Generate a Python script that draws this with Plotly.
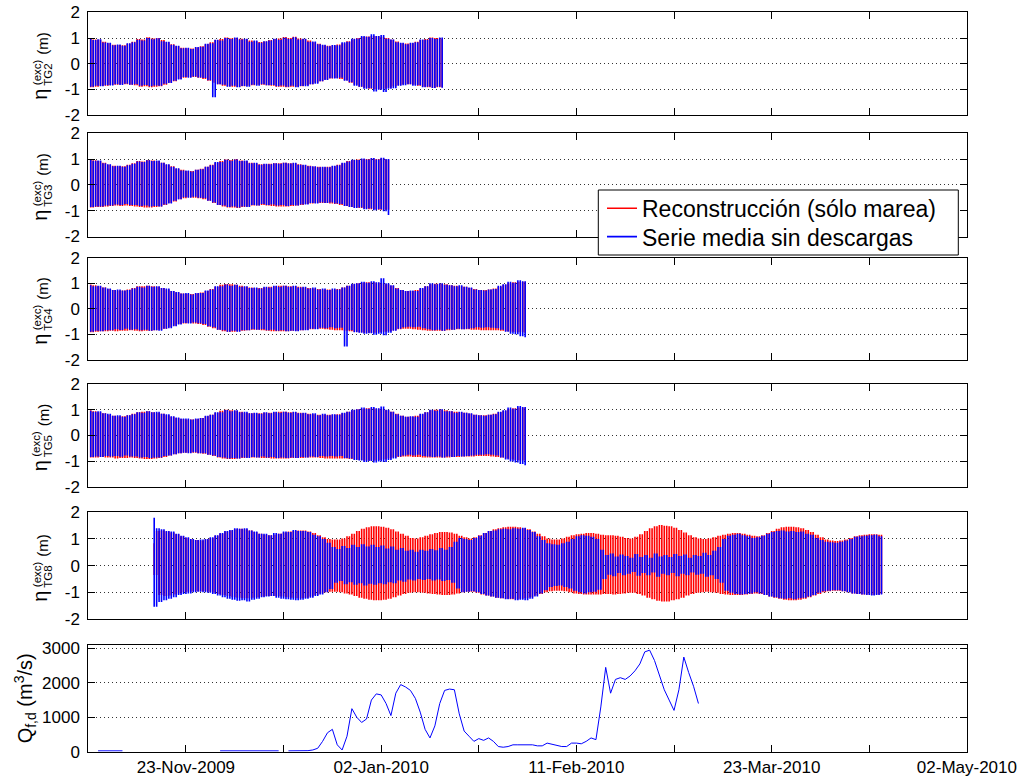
import numpy as np
import pandas as pd
import plotly.graph_objects as go

# ---------------------------------------------------------------------------
# Daily high / low water levels (m) of the excess elevation at each gauge.
# "red" = tidal reconstruction only, "blue" = mean series without discharges.
# ---------------------------------------------------------------------------
TG2_START = "2009-11-03"
tg2_blue_hi = [0.97, 0.92, 0.95, 0.83, 0.82, 0.72, 0.75, 0.70, 0.80, 0.84,
               0.93, 0.90, 1.00, 0.95, 0.99, 0.88, 0.86, 0.74, 0.70, 0.60,
               0.62, 0.57, 0.65, 0.66, 0.78, 0.80, 0.93, 0.90, 1.00, 0.96,
               1.02, 0.94, 0.97, 0.86, 0.90, 0.82, 0.88, 0.90, 0.97, 0.93,
               1.01, 0.96, 1.03, 0.94, 0.97, 0.86, 0.87, 0.76, 0.74, 0.68,
               0.73, 0.72, 0.84, 0.86, 0.97, 0.98, 1.08, 1.05, 1.15, 1.08,
               1.12, 0.97, 0.94, 0.84, 0.82, 0.76, 0.82, 0.84, 0.94, 0.93,
               1.00, 0.96, 1.02]
tg2_blue_lo = [-0.90, -0.86, -0.88, -0.84, -0.85, -0.80, -0.83, -0.78, -0.82, -0.80,
               -0.86, -0.83, -0.88, -0.85, -0.86, -0.78, -0.75, -0.66, -0.62, -0.52,
               -0.55, -0.50, -0.54, -0.56, -0.65, -1.31, -0.80, -0.82, -0.90, -0.86,
               -0.92, -0.87, -0.90, -0.82, -0.86, -0.80, -0.84, -0.83, -0.88, -0.85,
               -0.90, -0.86, -0.92, -0.87, -0.88, -0.80, -0.78, -0.68, -0.64, -0.57,
               -0.58, -0.55, -0.66, -0.72, -0.86, -0.90, -0.98, -0.96, -1.08, -1.02,
               -1.10, -0.98, -0.96, -0.86, -0.84, -0.80, -0.86, -0.84, -0.92, -0.90,
               -0.95, -0.90, -0.94]
tg2_red_hi = [0.99, 0.94, 0.93, 0.86, 0.80, 0.74, 0.73, 0.72, 0.78, 0.86,
              0.96, 0.94, 1.03, 0.98, 1.00, 0.92, 0.84, 0.76, 0.68, 0.62,
              0.60, 0.59, 0.63, 0.68, 0.76, 0.84, 0.92, 0.96, 1.02, 0.99,
              1.00, 0.97, 0.95, 0.90, 0.88, 0.85, 0.87, 0.92, 0.96, 0.98,
              1.04, 1.00, 1.05, 0.98, 0.96, 0.90, 0.84, 0.78, 0.72, 0.70,
              0.71, 0.75, 0.80, 0.88, 0.94, 1.00, 1.04, 1.06, 1.08, 1.07,
              1.05, 1.00, 0.93, 0.87, 0.80, 0.79, 0.80, 0.86, 0.92, 0.96,
              1.02, 1.00, 0.98]
tg2_red_lo = [-0.92, -0.90, -0.86, -0.86, -0.83, -0.82, -0.80, -0.80, -0.82, -0.84,
              -0.90, -0.88, -0.92, -0.90, -0.88, -0.82, -0.74, -0.68, -0.60, -0.55,
              -0.52, -0.52, -0.55, -0.60, -0.66, -0.74, -0.80, -0.86, -0.88, -0.90,
              -0.90, -0.88, -0.86, -0.84, -0.82, -0.82, -0.84, -0.86, -0.90, -0.90,
              -0.92, -0.90, -0.90, -0.88, -0.84, -0.80, -0.74, -0.68, -0.62, -0.58,
              -0.56, -0.60, -0.65, -0.74, -0.82, -0.90, -0.94, -0.98, -1.00, -1.00,
              -0.98, -0.94, -0.88, -0.84, -0.80, -0.80, -0.82, -0.86, -0.90, -0.92,
              -0.94, -0.92, -0.92]

TG3_START = "2009-11-03"
tg3_blue_hi = [0.96, 0.93, 0.94, 0.84, 0.80, 0.72, 0.74, 0.70, 0.76, 0.82,
               0.90, 0.88, 0.95, 0.92, 0.94, 0.86, 0.80, 0.70, 0.64, 0.56,
               0.56, 0.52, 0.58, 0.60, 0.70, 0.76, 0.88, 0.88, 0.97, 0.93,
               0.98, 0.92, 0.94, 0.84, 0.86, 0.78, 0.82, 0.80, 0.84, 0.82,
               0.86, 0.83, 0.86, 0.78, 0.78, 0.72, 0.72, 0.68, 0.70, 0.68,
               0.74, 0.76, 0.86, 0.90, 0.97, 0.96, 1.02, 0.98, 1.04, 0.98,
               1.05, 1.00]
tg3_blue_lo = [-0.86, -0.84, -0.84, -0.80, -0.80, -0.76, -0.78, -0.74, -0.78, -0.78,
               -0.82, -0.80, -0.84, -0.82, -0.84, -0.76, -0.72, -0.62, -0.56, -0.48,
               -0.50, -0.46, -0.50, -0.52, -0.62, -0.68, -0.78, -0.80, -0.86, -0.84,
               -0.88, -0.84, -0.86, -0.78, -0.80, -0.74, -0.78, -0.76, -0.80, -0.78,
               -0.82, -0.78, -0.80, -0.76, -0.76, -0.70, -0.72, -0.68, -0.70, -0.68,
               -0.72, -0.74, -0.82, -0.86, -0.90, -0.88, -0.94, -0.92, -0.98, -0.94,
               -1.02, -1.17]
tg3_red_hi = [0.98, 0.95, 0.92, 0.86, 0.78, 0.74, 0.72, 0.72, 0.78, 0.84,
              0.92, 0.90, 0.96, 0.94, 0.92, 0.86, 0.78, 0.72, 0.62, 0.58,
              0.54, 0.54, 0.58, 0.62, 0.70, 0.78, 0.86, 0.92, 0.98, 0.96,
              0.99, 0.94, 0.92, 0.86, 0.84, 0.80, 0.80, 0.82, 0.84, 0.84,
              0.86, 0.84, 0.84, 0.80, 0.76, 0.74, 0.70, 0.70, 0.68, 0.70,
              0.72, 0.78, 0.84, 0.92, 0.96, 0.98, 1.00, 1.00, 1.02, 1.00,
              1.02, 0.98]
tg3_red_lo = [-0.88, -0.86, -0.86, -0.84, -0.82, -0.80, -0.82, -0.80, -0.82, -0.84,
              -0.86, -0.88, -0.88, -0.86, -0.84, -0.78, -0.70, -0.64, -0.56, -0.52,
              -0.48, -0.50, -0.52, -0.56, -0.62, -0.70, -0.78, -0.84, -0.88, -0.88,
              -0.90, -0.86, -0.84, -0.80, -0.80, -0.78, -0.80, -0.82, -0.84, -0.84,
              -0.84, -0.82, -0.80, -0.78, -0.74, -0.72, -0.70, -0.70, -0.70, -0.72,
              -0.74, -0.78, -0.82, -0.86, -0.88, -0.90, -0.92, -0.94, -0.94, -0.96,
              -0.96, -0.96]

TG4_START = "2009-11-03"
tg4_blue_hi = [0.92, 0.88, 0.90, 0.84, 0.80, 0.74, 0.76, 0.72, 0.74, 0.80,
               0.86, 0.84, 0.90, 0.86, 0.88, 0.82, 0.80, 0.70, 0.66, 0.60,
               0.62, 0.56, 0.62, 0.62, 0.72, 0.76, 0.88, 0.88, 0.95, 0.90,
               0.94, 0.86, 0.88, 0.82, 0.84, 0.80, 0.86, 0.84, 0.90, 0.86,
               0.90, 0.86, 0.90, 0.84, 0.86, 0.80, 0.84, 0.76, 0.80, 0.74,
               0.80, 0.76, 0.84, 0.90, 0.98, 1.00, 1.06, 1.02, 1.08, 1.04,
               1.20, 1.00, 0.92, 0.80, 0.74, 0.70, 0.72, 0.70, 0.82, 0.88,
               1.00, 0.96, 1.00, 0.94, 0.92, 0.88, 0.92, 0.86, 0.84, 0.76,
               0.74, 0.72, 0.76, 0.78, 0.90, 0.96, 1.06, 1.02, 1.12, 1.08]
tg4_blue_lo = [-0.90, -0.86, -0.88, -0.84, -0.84, -0.80, -0.83, -0.78, -0.82, -0.80,
               -0.84, -0.82, -0.86, -0.84, -0.86, -0.78, -0.76, -0.68, -0.62, -0.56,
               -0.58, -0.54, -0.57, -0.60, -0.68, -0.72, -0.82, -0.84, -0.90, -0.86,
               -0.90, -0.84, -0.84, -0.80, -0.82, -0.80, -0.84, -0.82, -0.86, -0.84,
               -0.88, -0.86, -0.88, -0.84, -0.84, -0.78, -0.80, -0.74, -0.76, -0.72,
               -0.76, -0.74, -1.48, -0.84, -0.92, -0.94, -0.98, -0.96, -1.02, -0.98,
               -1.04, -0.94, -0.86, -0.78, -0.72, -0.70, -0.72, -0.70, -0.76, -0.80,
               -0.84, -0.82, -0.86, -0.80, -0.82, -0.78, -0.80, -0.78, -0.76, -0.72,
               -0.74, -0.72, -0.74, -0.76, -0.82, -0.90, -0.98, -1.00, -1.08, -1.12]
tg4_red_hi = [0.95, 0.92, 0.88, 0.84, 0.78, 0.74, 0.72, 0.72, 0.76, 0.82,
              0.88, 0.88, 0.90, 0.88, 0.86, 0.82, 0.76, 0.70, 0.64, 0.60,
              0.58, 0.58, 0.60, 0.64, 0.70, 0.78, 0.86, 0.94, 0.97, 0.96,
              0.94, 0.90, 0.86, 0.84, 0.82, 0.82, 0.84, 0.86, 0.88, 0.90,
              0.90, 0.88, 0.88, 0.86, 0.84, 0.82, 0.80, 0.78, 0.76, 0.76,
              0.76, 0.78, 0.84, 0.90, 0.96, 1.00, 1.02, 1.04, 1.04, 1.02,
              1.00, 0.96, 0.90, 0.82, 0.74, 0.70, 0.70, 0.74, 0.80, 0.88,
              0.96, 0.98, 0.98, 0.96, 0.92, 0.90, 0.88, 0.86, 0.82, 0.78,
              0.74, 0.74, 0.76, 0.80, 0.86, 0.94, 1.00, 1.04, 1.06, 1.06]
tg4_red_lo = [-0.92, -0.90, -0.88, -0.88, -0.86, -0.88, -0.86, -0.86, -0.84, -0.86,
              -0.88, -0.86, -0.86, -0.84, -0.82, -0.78, -0.72, -0.66, -0.60, -0.58,
              -0.56, -0.58, -0.60, -0.64, -0.70, -0.76, -0.82, -0.88, -0.90, -0.90,
              -0.88, -0.86, -0.84, -0.82, -0.82, -0.84, -0.86, -0.88, -0.88, -0.88,
              -0.88, -0.86, -0.86, -0.84, -0.82, -0.80, -0.78, -0.78, -0.80, -0.82,
              -0.84, -0.84, -0.86, -0.88, -0.90, -0.92, -0.94, -0.94, -0.94, -0.92,
              -0.90, -0.88, -0.84, -0.80, -0.78, -0.78, -0.80, -0.82, -0.84, -0.86,
              -0.86, -0.86, -0.86, -0.84, -0.82, -0.80, -0.80, -0.80, -0.82, -0.82,
              -0.84, -0.84, -0.84, -0.84, -0.86, -0.88, -0.90, -0.92, -0.92, -0.94]

TG5_START = "2009-11-03"
tg5_blue_hi = [0.96, 0.92, 0.94, 0.86, 0.84, 0.76, 0.78, 0.72, 0.78, 0.82,
               0.90, 0.88, 0.94, 0.90, 0.92, 0.84, 0.82, 0.74, 0.70, 0.66,
               0.66, 0.62, 0.66, 0.68, 0.76, 0.80, 0.90, 0.90, 0.99, 0.94,
               0.98, 0.90, 0.92, 0.86, 0.88, 0.84, 0.90, 0.86, 0.92, 0.88,
               0.92, 0.88, 0.92, 0.86, 0.88, 0.82, 0.86, 0.78, 0.84, 0.78,
               0.82, 0.80, 0.88, 0.92, 1.00, 1.02, 1.08, 1.04, 1.10, 1.06,
               1.12, 1.00, 0.92, 0.82, 0.76, 0.72, 0.74, 0.72, 0.84, 0.90,
               1.00, 0.96, 1.02, 0.94, 0.94, 0.88, 0.92, 0.88, 0.86, 0.80,
               0.78, 0.76, 0.80, 0.82, 0.92, 0.98, 1.08, 1.04, 1.14, 1.10]
tg5_blue_lo = [-0.84, -0.82, -0.84, -0.80, -0.82, -0.80, -0.83, -0.78, -0.82, -0.82,
               -0.86, -0.84, -0.88, -0.86, -0.86, -0.80, -0.78, -0.74, -0.70, -0.68,
               -0.70, -0.66, -0.70, -0.70, -0.76, -0.78, -0.84, -0.86, -0.90, -0.88,
               -0.90, -0.86, -0.88, -0.84, -0.86, -0.82, -0.86, -0.84, -0.88, -0.86,
               -0.88, -0.86, -0.88, -0.84, -0.86, -0.82, -0.84, -0.80, -0.82, -0.80,
               -0.82, -0.80, -0.88, -0.90, -0.96, -0.98, -1.04, -1.00, -1.06, -1.02,
               -1.04, -0.96, -0.90, -0.82, -0.78, -0.76, -0.78, -0.76, -0.80, -0.82,
               -0.84, -0.82, -0.86, -0.82, -0.84, -0.80, -0.82, -0.80, -0.78, -0.76,
               -0.76, -0.74, -0.76, -0.78, -0.86, -0.94, -1.02, -1.06, -1.12, -1.16]
tg5_red_hi = [0.98, 0.94, 0.90, 0.86, 0.80, 0.76, 0.74, 0.74, 0.78, 0.84,
              0.90, 0.92, 0.94, 0.90, 0.88, 0.84, 0.78, 0.72, 0.68, 0.64,
              0.62, 0.62, 0.64, 0.68, 0.74, 0.80, 0.88, 0.96, 1.00, 0.98,
              0.96, 0.92, 0.88, 0.86, 0.86, 0.86, 0.88, 0.88, 0.90, 0.92,
              0.92, 0.90, 0.90, 0.88, 0.86, 0.84, 0.82, 0.80, 0.80, 0.80,
              0.80, 0.82, 0.86, 0.92, 0.98, 1.02, 1.04, 1.06, 1.06, 1.04,
              1.02, 0.98, 0.92, 0.84, 0.76, 0.72, 0.72, 0.76, 0.82, 0.90,
              0.98, 1.00, 1.00, 0.98, 0.94, 0.92, 0.90, 0.88, 0.84, 0.80,
              0.78, 0.78, 0.80, 0.84, 0.90, 0.96, 1.02, 1.06, 1.08, 1.08]
tg5_red_lo = [-0.86, -0.86, -0.84, -0.86, -0.86, -0.90, -0.88, -0.88, -0.86, -0.88,
              -0.90, -0.92, -0.92, -0.90, -0.88, -0.84, -0.78, -0.74, -0.70, -0.68,
              -0.68, -0.68, -0.70, -0.72, -0.76, -0.80, -0.86, -0.90, -0.92, -0.92,
              -0.90, -0.88, -0.86, -0.86, -0.86, -0.88, -0.88, -0.90, -0.90, -0.90,
              -0.90, -0.88, -0.88, -0.88, -0.86, -0.86, -0.86, -0.88, -0.90, -0.90,
              -0.90, -0.90, -0.90, -0.92, -0.94, -0.96, -0.98, -0.98, -0.98, -0.96,
              -0.94, -0.90, -0.86, -0.84, -0.82, -0.82, -0.84, -0.84, -0.86, -0.86,
              -0.86, -0.86, -0.86, -0.86, -0.84, -0.84, -0.82, -0.82, -0.82, -0.80,
              -0.80, -0.80, -0.82, -0.84, -0.86, -0.90, -0.94, -0.96, -0.98, -0.98]

TG8_START = "2009-11-16"
tg8_blue_hi = [1.80, 1.40, 1.36, 1.30, 1.28, 1.20, 1.12,
               1.06, 1.00, 0.96, 0.98, 1.00, 1.06, 1.14, 1.22, 1.30, 1.34,
               1.40, 1.38, 1.40, 1.32, 1.28, 1.20, 1.20, 1.14, 1.22, 1.20,
               1.28, 1.26, 1.34, 1.30, 1.30, 1.26, 1.16, 1.10, 1.00, 0.86,
               0.70, 0.62, 0.74, 0.66, 0.78, 0.70, 0.80, 0.72, 0.78, 0.70,
               0.76, 0.64, 0.72, 0.60, 0.66, 0.56, 0.60, 0.52, 0.60, 0.56,
               0.62, 0.58, 0.66, 0.60, 0.70, 0.90, 1.04, 1.00, 0.96, 1.04,
               1.12, 1.22, 1.30, 1.32, 1.36, 1.38, 1.36, 1.40, 1.38, 1.42,
               1.34, 1.26, 1.10, 0.96, 0.84, 0.80, 0.78, 0.84, 0.90, 1.00,
               1.10, 1.14, 1.12, 1.08, 1.00, 0.60, 0.40, 0.46, 0.34, 0.42,
               0.36, 0.30, 0.44, 0.32, 0.40, 0.30, 0.46, 0.34, 0.40, 0.32,
               0.44, 0.36, 0.42, 0.30, 0.40, 0.36, 0.48, 0.40, 0.56, 0.70,
               1.00, 1.12, 1.16, 1.20, 1.14, 1.10, 1.04, 1.06, 1.12, 1.20,
               1.26, 1.30, 1.32, 1.28, 1.30, 1.26, 1.28, 1.20, 1.16, 1.04,
               0.96, 0.90, 0.88, 0.86, 0.90, 0.94, 1.00, 1.08, 1.10, 1.12,
               1.14, 1.16, 1.10]
tg8_blue_lo = [-1.54, -1.36, -1.30, -1.24, -1.18, -1.10, -1.06,
               -1.04, -1.00, -0.98, -1.00, -1.02, -1.06, -1.12, -1.18, -1.24, -1.28,
               -1.32, -1.30, -1.34, -1.28, -1.24, -1.18, -1.16, -1.14, -1.20, -1.24,
               -1.26, -1.28, -1.30, -1.28, -1.24, -1.20, -1.14, -1.08, -1.00, -0.88,
               -0.64, -0.58, -0.70, -0.62, -0.72, -0.66, -0.74, -0.68, -0.72, -0.66,
               -0.70, -0.62, -0.66, -0.56, -0.60, -0.52, -0.56, -0.50, -0.54, -0.50,
               -0.56, -0.52, -0.58, -0.54, -0.64, -0.86, -1.00, -0.98, -0.96, -1.00,
               -1.06, -1.12, -1.16, -1.20, -1.22, -1.26, -1.24, -1.30, -1.28, -1.30,
               -1.24, -1.16, -1.04, -0.92, -0.80, -0.76, -0.74, -0.80, -0.86, -0.94,
               -1.00, -1.04, -1.00, -0.98, -0.90, -0.50, -0.34, -0.40, -0.28, -0.36,
               -0.30, -0.24, -0.38, -0.28, -0.36, -0.26, -0.42, -0.30, -0.36, -0.28,
               -0.40, -0.30, -0.36, -0.26, -0.34, -0.30, -0.42, -0.36, -0.50, -0.64,
               -0.94, -1.02, -1.06, -1.08, -1.06, -1.04, -1.00, -1.04, -1.10, -1.16,
               -1.18, -1.22, -1.24, -1.22, -1.26, -1.22, -1.20, -1.16, -1.10, -1.02,
               -0.96, -0.94, -0.92, -0.92, -0.96, -1.00, -1.04, -1.06, -1.08, -1.10,
               -1.12, -1.10, -1.08]
tg8_red_hi = [0.84, 1.30, 1.32, 1.28, 1.24, 1.18, 1.10,
              1.04, 0.98, 0.96, 0.94, 0.98, 1.04, 1.12, 1.20, 1.28, 1.32,
              1.36, 1.38, 1.36, 1.32, 1.26, 1.20, 1.16, 1.14, 1.16, 1.20,
              1.24, 1.28, 1.30, 1.32, 1.32, 1.28, 1.22, 1.14, 1.06, 1.00,
              0.98, 0.98, 1.02, 1.10, 1.20, 1.30, 1.38, 1.44, 1.48, 1.48,
              1.46, 1.42, 1.36, 1.28, 1.20, 1.12, 1.04, 1.02, 1.06, 1.12,
              1.18, 1.22, 1.26, 1.26, 1.24, 1.20, 1.12, 1.06, 1.02, 1.06,
              1.14, 1.22, 1.30, 1.36, 1.40, 1.44, 1.46, 1.46, 1.44, 1.40,
              1.36, 1.28, 1.20, 1.10, 1.02, 0.98, 0.98, 1.02, 1.08, 1.14,
              1.18, 1.20, 1.22, 1.22, 1.20, 1.16, 1.14, 1.14, 1.12, 1.08,
              1.04, 1.02, 1.08, 1.18, 1.30, 1.40, 1.48, 1.52, 1.50, 1.48,
              1.42, 1.34, 1.24, 1.14, 1.06, 1.02, 1.00, 1.02, 1.06, 1.12,
              1.16, 1.20, 1.22, 1.22, 1.20, 1.16, 1.12, 1.10, 1.14, 1.22,
              1.30, 1.38, 1.44, 1.46, 1.46, 1.44, 1.40, 1.34, 1.26, 1.16,
              1.06, 0.98, 0.94, 0.92, 0.94, 0.98, 1.04, 1.10, 1.14, 1.16,
              1.18, 1.18, 1.16]
tg8_red_lo = [-0.35, -1.10, -1.14, -1.12, -1.08, -1.04, -1.00,
              -0.98, -0.96, -0.96, -0.96, -0.98, -1.02, -1.06, -1.10, -1.14, -1.18,
              -1.20, -1.22, -1.22, -1.20, -1.18, -1.16, -1.14, -1.14, -1.14, -1.16,
              -1.18, -1.20, -1.22, -1.22, -1.20, -1.16, -1.10, -1.04, -1.00, -0.98,
              -0.98, -1.00, -1.04, -1.08, -1.14, -1.20, -1.24, -1.28, -1.30, -1.30,
              -1.28, -1.24, -1.18, -1.12, -1.06, -1.02, -1.00, -1.00, -1.02, -1.04,
              -1.06, -1.08, -1.10, -1.10, -1.08, -1.04, -1.00, -0.98, -0.98, -1.02,
              -1.08, -1.12, -1.16, -1.20, -1.22, -1.24, -1.26, -1.26, -1.24, -1.22,
              -1.18, -1.12, -1.06, -1.00, -0.96, -0.94, -0.94, -0.96, -1.00, -1.04,
              -1.06, -1.08, -1.08, -1.08, -1.08, -1.06, -1.06, -1.08, -1.06, -1.04,
              -1.02, -1.02, -1.06, -1.12, -1.20, -1.26, -1.32, -1.34, -1.34, -1.30,
              -1.26, -1.20, -1.12, -1.06, -1.02, -1.00, -0.98, -1.00, -1.02, -1.06,
              -1.08, -1.10, -1.10, -1.10, -1.08, -1.06, -1.04, -1.06, -1.10, -1.16,
              -1.20, -1.24, -1.28, -1.30, -1.30, -1.28, -1.24, -1.18, -1.12, -1.06,
              -1.00, -0.96, -0.94, -0.94, -0.96, -1.00, -1.04, -1.06, -1.08, -1.08,
              -1.10, -1.08, -1.06]

# Daily river discharge Q_f,d (m3/s); None = no record
Q_START = "2009-11-05"
q_values = ([25, 25, 25, 25, 25, 25]
            + [None] * 19
            + [25] * 13
            + [None]
            + [25, 25, 25]
            + [25, 30, 50, 100, 300, 550, 650, 200, 50, 450,
               1250, 1000, 850, 950, 1500, 1680, 1650, 1400, 1050, 1700,
               1950, 1880, 1780, 1550, 1150, 650, 400, 750, 1400, 1780,
               1820, 1800, 1100, 600, 450, 300, 380, 330, 400, 300,
               150, 130, 150, 200, 200, 200, 200, 200, 170, 170,
               250, 220, 200, 150, 150, 250, 250, 230, 300, 400,
               350, 1300, 2450, 1700, 2100, 2150, 2100, 2200, 2350, 2550,
               2900, 2950, 2650, 2200, 1800, 1500, 1200, 1800, 2750, 2300,
               1900, 1400])

# Axis ticks and labels
x_range = ["2009-11-03", "2010-05-02"]
x_tick_dates = ["2009-11-23", "2010-01-02", "2010-02-11", "2010-03-23", "2010-05-02"]
x_tick_labels = ["23-Nov-2009", "02-Jan-2010", "11-Feb-2010", "23-Mar-2010", "02-May-2010"]
x_minor_dates = ["2009-12-13", "2010-01-22", "2010-03-03", "2010-04-12"]
eta_ticks = [-2, -1, 0, 1, 2]
eta_tick_labels = ["-2", "-1", "0", "1", "2"]
q_ticks = [0, 1000, 2000, 3000]
q_tick_labels = ["0", "1000", "2000", "3000"]

legend_names = ["Reconstrucción (sólo marea)", "Serie media sin descargas"]
gauge_names = ["TG2", "TG3", "TG4", "TG5", "TG8"]

# ---------------------------------------------------------------------------
W, H = 1021, 778
FONT = "Liberation Sans, Arial, Helvetica, sans-serif"
RED, BLUE = "#ff0000", "#0000ff"
TIDE_WIDTH = 1.6

# panel extents in pixels (top, bottom) and horizontal extent
panels_px = [(12.4, 115.0), (133.2, 236.5), (257.8, 359.8),
             (384.0, 486.7), (512.3, 619.0), (645.0, 751.7)]
x_left, x_right = 88.3, 966.9

# legend frame (pixels) and the centre line of its two rows
legend_box = (598.3, 190.0, 958.3, 255.0)
legend_rows = (208.3, 236.7)


def tide_strokes(start, hi, lo):
    """Daily highs and lows as 12-hourly water levels, drawn as the vertical
    rise/fall strokes between successive turning points."""
    assert len(hi) == len(lo)
    n = len(hi)
    t = pd.Timestamp(start) + pd.to_timedelta(np.arange(2 * n) * 12, unit="h")
    level = np.empty(2 * n)
    level[0::2] = hi
    level[1::2] = lo
    xs, ys = [], []
    for k in range(1, 2 * n):
        xs += [t[k], t[k], None]
        ys += [level[k - 1], level[k], None]
    return xs, ys


gauges = [
    (TG2_START, tg2_red_hi, tg2_red_lo, tg2_blue_hi, tg2_blue_lo),
    (TG3_START, tg3_red_hi, tg3_red_lo, tg3_blue_hi, tg3_blue_lo),
    (TG4_START, tg4_red_hi, tg4_red_lo, tg4_blue_hi, tg4_blue_lo),
    (TG5_START, tg5_red_hi, tg5_red_lo, tg5_blue_hi, tg5_blue_lo),
    (TG8_START, tg8_red_hi, tg8_red_lo, tg8_blue_hi, tg8_blue_lo),
]

fig = go.Figure()

for i, (start, rhi, rlo, bhi, blo) in enumerate(gauges):
    ax = "" if i == 0 else str(i + 1)
    xr, yr = tide_strokes(start, rhi, rlo)
    xb, yb = tide_strokes(start, bhi, blo)
    fig.add_trace(go.Scatter(x=xr, y=yr, mode="lines", name=legend_names[0],
                             line=dict(color=RED, width=TIDE_WIDTH),
                             showlegend=(i == 0), legend="legend",
                             xaxis="x" + ax, yaxis="y" + ax, hoverinfo="skip"))
    fig.add_trace(go.Scatter(x=xb, y=yb, mode="lines", name=legend_names[1],
                             line=dict(color=BLUE, width=TIDE_WIDTH),
                             showlegend=(i == 0), legend="legend2",
                             xaxis="x" + ax, yaxis="y" + ax, hoverinfo="skip"))

q_dates = pd.Timestamp(Q_START) + pd.to_timedelta(np.arange(len(q_values)), unit="D")
fig.add_trace(go.Scatter(x=q_dates, y=q_values, mode="lines", showlegend=False,
                         line=dict(color=BLUE, width=1), xaxis="x6", yaxis="y6",
                         connectgaps=False, hoverinfo="skip"))

common_axis = dict(showline=True, linecolor="black", linewidth=1, mirror="allticks",
                   ticks="inside", ticklen=7, tickwidth=1, tickcolor="black",
                   zeroline=False, automargin=False,
                   tickfont=dict(family=FONT, size=17, color="black"))

legend_style = dict(xanchor="left", yanchor="middle", bgcolor="rgba(0,0,0,0)",
                    borderwidth=0, font=dict(family=FONT, size=23, color="black"),
                    itemwidth=30, tracegroupgap=0)

layout = dict(
    template="none",
    width=W, height=H,
    margin=dict(l=0, r=0, t=0, b=0, pad=0),
    paper_bgcolor="white", plot_bgcolor="white",
    font=dict(family=FONT, color="black"),
    showlegend=True,
    legend=dict(legend_style, x=602.0 / W, y=1 - legend_rows[0] / H),
    legend2=dict(legend_style, x=602.0 / W, y=1 - legend_rows[1] / H),
    shapes=[dict(type="rect", xref="paper", yref="paper", layer="above",
                 x0=legend_box[0] / W, x1=legend_box[2] / W,
                 y0=1 - legend_box[3] / H, y1=1 - legend_box[1] / H,
                 line=dict(color="black", width=1), fillcolor="white")],
)

xdom = [x_left / W, x_right / W]
for i, (top, bot) in enumerate(panels_px):
    ax = "" if i == 0 else str(i + 1)
    ydom = [1 - bot / H, 1 - top / H]
    xa = dict(common_axis, domain=xdom, anchor="y" + ax, type="date", range=x_range,
              tickmode="array", tickvals=x_tick_dates, ticktext=x_tick_labels,
              minor=dict(tickmode="array", tickvals=x_minor_dates, ticks="inside",
                         ticklen=7, tickwidth=1, tickcolor="black", showgrid=False),
              showgrid=False, showticklabels=(i == 5))
    if i == 5:
        xa["layer"] = "below traces"
    ya = dict(common_axis, domain=ydom, anchor="x" + ax, showgrid=True,
              gridcolor="#333333", griddash="1px,3px", gridwidth=1,
              tickmode="array", ticklabelstandoff=4)
    if i < 5:
        ya.update(range=[-2, 2], tickvals=eta_ticks, ticktext=eta_tick_labels)
    else:
        ya.update(range=[0, 3100], tickvals=q_ticks, ticktext=q_tick_labels)
    layout["xaxis" + ax] = xa
    layout["yaxis" + ax] = ya

fig.update_layout(**layout)

# rotated axis titles: eta with stacked superscript / subscript
annotations = []


def ann(text, px, py, size):
    annotations.append(dict(text=text, x=px / W, y=1 - py / H, xref="paper", yref="paper",
                            xanchor="center", yanchor="middle", textangle=-90,
                            showarrow=False, font=dict(family=FONT, size=size, color="black")))


for i, name in enumerate(gauge_names):
    top, bot = panels_px[i]
    yc = (top + bot) / 2
    ann("η", 40, yc + 31, 20)
    ann("(exc)", 36.5, yc + 9, 11.5)
    ann(name, 48, yc + 11, 11.5)
    ann("(m)", 43, yc - 20, 15)

top, bot = panels_px[5]
ann("Q<sub>f,d</sub> (m<sup>3</sup>/s)", 25, (top + bot) / 2, 20)

fig.update_layout(annotations=annotations)
fig.write_html("out.html")
